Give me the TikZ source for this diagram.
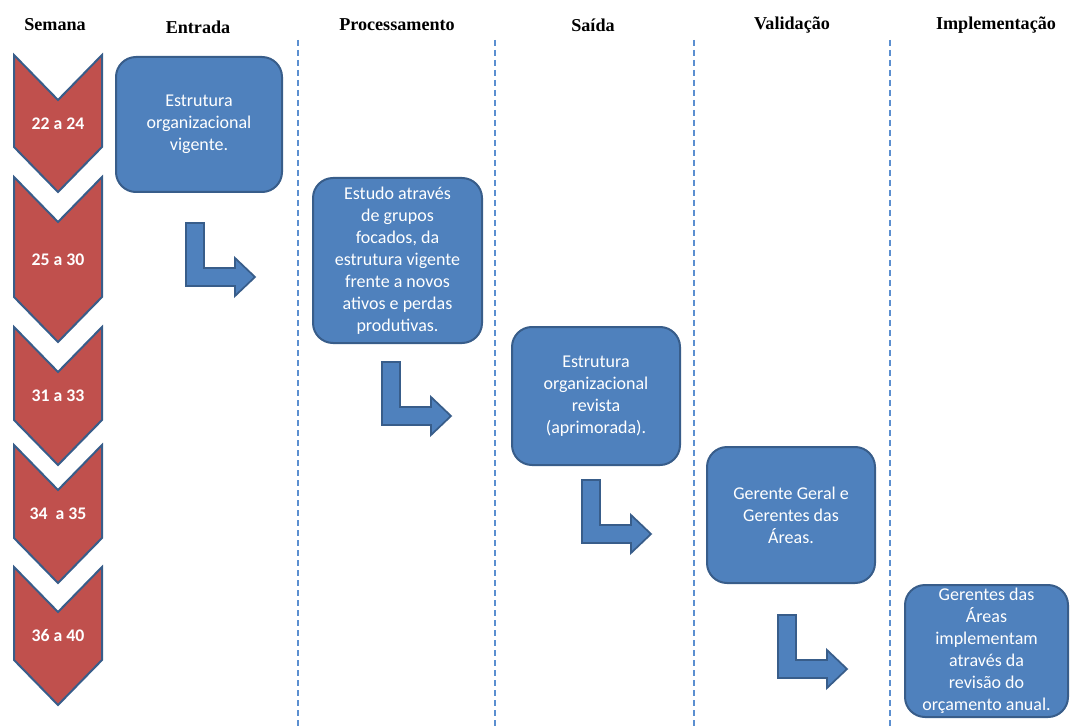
\documentclass[tikz,border=0pt]{standalone}
\usepackage{fontspec}
\setmainfont{Liberation Serif}
\newfontfamily\calfont{Carlito}
\usetikzlibrary{positioning}

\definecolor{boxblue}{HTML}{4F81BD}
\definecolor{boxedge}{HTML}{385D8A}
\definecolor{weekred}{HTML}{C0504D}
\definecolor{sepblue}{HTML}{5B8FD0}

\tikzset{
  colhead/.style={font=\bfseries\fontsize{13.6}{15}\selectfont},
  stepbox/.style={draw=boxedge, line width=1.5pt, fill=boxblue, rounded corners=15pt,
    text=white, align=center, inner sep=0pt, font=\calfont\fontsize{13.5}{16.5}\selectfont},
  week/.style={draw=boxedge, line width=1.5pt, fill=weekred, line join=miter},
  weeklabel/.style={text=white, font=\calfont\bfseries\fontsize{13.3}{15}\selectfont},
  bent/.style={draw=boxedge, line width=1.3pt, fill=boxblue},
  sep/.style={sepblue, line width=0.9pt, dash pattern=on 4.5pt off 3pt},
  bentarrow/.pic={
    \draw[bent] (0,0) -- (18,0) -- (18,45) -- (49,45) -- (49,35) -- (69,54)
      -- (49,73) -- (49,63) -- (0,63) -- cycle;
  }
}

\begin{document}
\begin{tikzpicture}[x=0.75pt, y=-0.75pt]
\useasboundingbox (0,0) rectangle (1070,727);

% column headings
\node[colhead] (hsem) at (55,25) {Semana};
\node[colhead] (hent) at (198,27) {Entrada};
\node[colhead] (hpro) at (397,25) {Processamento};
\node[colhead] (hsai) at (593,25) {Saída};
\node[colhead] (hval) at (792,25) {Validação};
\node[colhead] (himp) at (996,25) {Implementação};

% separators
\draw[sep] (298,40) -- (298,727);
\draw[sep] (495,40) -- (495,727);
\draw[sep] (694,40) -- (694,727);
\draw[sep] (890,40) -- (890,727);

% weeks
\draw[week] (14,55) -- (58,100) -- (102,55) -- (102,147) -- (58,192) -- (14,147) -- cycle;
\node[weeklabel] (wk1) at (58,124) {22 a 24};

\draw[week] (14,177) -- (58,222) -- (102,177) -- (102,297) -- (58,342) -- (14,297) -- cycle;
\node[weeklabel] (wk2) at (58,260) {25 a 30};

\draw[week] (14,327) -- (58,372) -- (102,327) -- (102,420) -- (58,465) -- (14,420) -- cycle;
\node[weeklabel] (wk3) at (58,396) {31 a 33};

\draw[week] (14,445) -- (58,490) -- (102,445) -- (102,538) -- (58,583) -- (14,538) -- cycle;
\node[weeklabel] (wk4) at (58,514) {34\ \ a 35};

\draw[week] (14,567) -- (58,612) -- (102,567) -- (102,660) -- (58,705) -- (14,660) -- cycle;
\node[weeklabel] (wk5) at (58,636) {36 a 40};

% steps
\node[stepbox, minimum width=124.5pt, minimum height=101.25pt] (entrada) at (199,124.5)
  {Estrutura\\organizacional\\vigente.};
\node[stepbox, minimum width=126.75pt, minimum height=123.75pt] (estudo) at (397.5,260.5)
  {Estudo através\\de grupos\\focados, da\\estrutura vigente\\frente a novos\\ativos e perdas\\produtivas.};
\node[stepbox, minimum width=126pt, minimum height=103.5pt] (saida) at (596,396)
  {Estrutura\\organizacional\\revista\\(aprimorada).};
\node[stepbox, minimum width=126pt, minimum height=102pt] (valida) at (791,515)
  {Gerente Geral e\\Gerentes das\\Áreas.};
\node[stepbox, minimum width=122.25pt, minimum height=99pt] (implanta) at (986.5,651)
  {Gerentes das\\Áreas\\implementam\\através da\\revisão do\\orçamento anual.};

% bent arrows
\pic at (186,223) {bentarrow};
\pic at (382,362) {bentarrow};
\pic at (582,480) {bentarrow};
\pic at (778,615) {bentarrow};

\end{tikzpicture}
\end{document}
